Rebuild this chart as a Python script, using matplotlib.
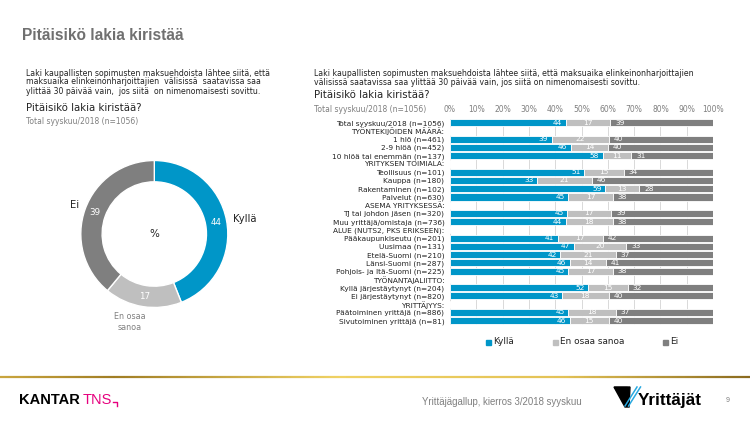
import numpy as np
import matplotlib
matplotlib.use("Agg")
import matplotlib.pyplot as plt
from matplotlib.patches import Rectangle, Polygon
from matplotlib.collections import LineCollection
from matplotlib.colors import LinearSegmentedColormap

# ---------------- data ----------------
series_names = ["Kyllä", "En osaa sanoa", "Ei"]
donut_values = [44, 17, 39]

row_labels = [
    "Total syyskuu/2018 (n=1056)",
    "TYÖNTEKIJÖIDEN MÄÄRÄ:",
    "1 hlö (n=461)",
    "2-9 hlöä (n=452)",
    "10 hlöä tai enemmän (n=137)",
    "YRITYKSEN TOIMIALA:",
    "Teollisuus (n=101)",
    "Kauppa (n=180)",
    "Rakentaminen (n=102)",
    "Palvelut (n=630)",
    "ASEMA YRITYKSESSÄ:",
    "TJ tai johdon jäsen (n=320)",
    "Muu yrittäjä/omistaja (n=736)",
    "ALUE (NUTS2, PKS ERIKSEEN):",
    "Pääkaupunkiseutu (n=201)",
    "Uusimaa (n=131)",
    "Etelä-Suomi (n=210)",
    "Länsi-Suomi (n=287)",
    "Pohjois- ja Itä-Suomi (n=225)",
    "TYÖNANTAJALIITTO:",
    "Kyllä järjestäytynyt (n=204)",
    "Ei järjestäytynyt (n=820)",
    "YRITTÄJYYS:",
    "Päätoiminen yrittäjä (n=886)",
    "Sivutoiminen yrittäjä (n=81)",
]
nan = np.nan
kylla = [44, nan, 39, 46, 58, nan, 51, 33, 59, 45, nan, 45, 44, nan, 41, 47, 42, 46, 45, nan, 52, 43, nan, 45, 46]
eos   = [17, nan, 22, 14, 11, nan, 15, 21, 13, 17, nan, 17, 18, nan, 17, 20, 21, 14, 17, nan, 15, 18, nan, 18, 15]
ei    = [39, nan, 40, 40, 31, nan, 34, 46, 28, 38, nan, 39, 38, nan, 42, 33, 37, 41, 38, nan, 32, 40, nan, 37, 40]
xticks = [0, 10, 20, 30, 40, 50, 60, 70, 80, 90, 100]

# ---------------- style ----------------
BLUE = "#0096C8"
LGRAY = "#BFBFBF"
DGRAY = "#7F7F7F"
colors = [BLUE, LGRAY, DGRAY]
W, H = 750, 422

plt.rcParams['font.family'] = ['DejaVu Sans']
fig = plt.figure(figsize=(W / 100, H / 100), dpi=100)
fig.patch.set_facecolor("white")


def fx(x):
    return x / W


def fy(y):
    return 1 - y / H


def ftext(x, y, s, **kw):
    kw.setdefault("va", "center")
    kw.setdefault("ha", "left")
    fig.text(fx(x), fy(y), s, **kw)


# ---------------- headings ----------------
ftext(22, 36, "Pitäisikö lakia kiristää", fontsize=11.2, fontweight="bold",
      color="#707070", family="Liberation Sans")

para_left = ["Laki kaupallisten sopimusten maksuehdoista lähtee siitä, että",
             "maksuaika elinkeinonharjoittajien  välisissä  saatavissa saa",
             "ylittää 30 päivää vain,  jos siitä  on nimenomaisesti sovittu."]
for i, line in enumerate(para_left):
    ftext(26, 73 + 9 * i, line, fontsize=5.6, color="#222222")
ftext(26, 108, "Pitäisikö lakia kiristää?", fontsize=7.3, color="#222222")
ftext(26, 122, "Total syyskuu/2018 (n=1056)", fontsize=5.5, color="#7f7f7f")

para_right = ["Laki kaupallisten sopimusten maksuehdoista lähtee siitä, että maksuaika elinkeinonharjoittajien",
              "välisissä saatavissa saa ylittää 30 päivää vain, jos siitä on nimenomaisesti sovittu."]
for i, line in enumerate(para_right):
    ftext(314, 73.5 + 9.2 * i, line, fontsize=5.6, color="#222222")
ftext(314, 94.5, "Pitäisikö lakia kiristää?", fontsize=7.3, color="#222222")
ftext(314, 109.5, "Total syyskuu/2018 (n=1056)", fontsize=5.5, color="#7f7f7f")

# ---------------- donut ----------------
cx, cy, R = 154.3, 234, 73.5
axd = fig.add_axes([fx(cx - R), fy(cy + R), 2 * R / W, 2 * R / H])
axd.pie(donut_values, colors=colors, startangle=90, counterclock=False,
        radius=1, wedgeprops=dict(width=0.29, edgecolor="white", linewidth=1.0),
        autopct=lambda p: f"{p:.0f}", pctdistance=0.855,
        textprops=dict(color="white", fontsize=6.3))
axd.set_xlim(-1, 1)
axd.set_ylim(-1, 1)
axd.set_aspect("auto")
axd.axis("off")
ftext(cx, cy, "%", ha="center", fontsize=7.5, color="#222222")
ftext(233, 219, series_names[0], fontsize=7.2, color="#222222")
ftext(79, 205, series_names[2], ha="right", fontsize=7.2, color="#222222")
ftext(130, 322, "En osaa\nsanoa", ha="center", fontsize=5.8, color="#808080",
      linespacing=1.25)

# ---------------- bar chart ----------------
top, bottom = 118.6, 324.8
left, right = 450, 713
axb = fig.add_axes([fx(left), fy(bottom), (right - left) / W, (bottom - top) / H])
n = len(row_labels)
ypos = np.arange(n)
data = np.array([kylla, eos, ei], dtype=float)
tot = np.nansum(data, axis=0)
tot[tot == 0] = 1
share = data / tot * 100
lefts = np.zeros(n)
bh = 0.86
for k in range(3):
    vals = np.nan_to_num(share[k])
    axb.barh(ypos, vals, left=lefts, height=bh, color=colors[k],
             edgecolor="white", linewidth=0.6, zorder=3)
    for i in range(n):
        if np.isnan(data[k, i]):
            continue
        lab = f"{data[k, i]:.0f}"
        if k == 0:
            axb.annotate(lab, (lefts[i] + vals[i], ypos[i]), xytext=(-2.5, 0),
                         textcoords="offset points", ha="right", va="center",
                         color="white", fontsize=5.4, zorder=4)
        elif k == 1:
            axb.text(lefts[i] + vals[i] / 2, ypos[i], lab, ha="center", va="center",
                     color="white", fontsize=5.4, zorder=4)
        else:
            axb.annotate(lab, (lefts[i], ypos[i]), xytext=(3.5, 0),
                         textcoords="offset points", ha="left", va="center",
                         color="white", fontsize=5.4, zorder=4)
    lefts = lefts + vals

axb.set_xlim(0, 100)
axb.set_ylim(n - 0.5, -0.5)
axb.set_xticks(xticks)
axb.set_xticklabels([f"{t}%" for t in xticks])
axb.xaxis.tick_top()
axb.tick_params(axis="x", length=0, pad=3.2, labelsize=5.5, labelcolor="#7f7f7f")
axb.set_yticks(ypos)
axb.set_yticklabels(row_labels)
axb.tick_params(axis="y", length=0, pad=4, labelsize=5.3, labelcolor="#222222")
axb.grid(axis="x", color="#d9d9d9", linewidth=0.7, zorder=0)
axb.set_axisbelow(True)
for s in axb.spines.values():
    s.set_visible(False)

# legend
leg_y = 342
for (xm, name, c) in [(488, series_names[0], BLUE), (555, series_names[1], LGRAY),
                      (665, series_names[2], DGRAY)]:
    fig.patches.append(Rectangle((fx(xm - 2.5), fy(leg_y + 2.5)), 5 / W, 5 / H,
                                 transform=fig.transFigure, color=c))
    ftext(xm + 5, leg_y, name, fontsize=6.4, color="#222222")

# ---------------- footer ----------------
cmap = LinearSegmentedColormap.from_list(
    "gold", [(0, "#c9a53e"), (0.15, "#a07d24"), (0.45, "#f0d264"),
             (0.75, "#e3c256"), (1.0, "#8a6a1e")])
xs = np.linspace(0, 1, 300)
segs = [[(xs[i], fy(376.7)), (xs[i + 1], fy(376.7))] for i in range(len(xs) - 1)]
lc = LineCollection(segs, colors=cmap(xs[:-1]), linewidths=1.6,
                    transform=fig.transFigure)
fig.add_artist(lc)

ftext(19.5, 400, "KANTAR", fontsize=10.5, color="black", family="Liberation Sans",
      fontweight="semibold")
ftext(83, 400, "TNS", fontsize=10.5, color="#e6007e", family="Liberation Sans")
fig.add_artist(plt.Line2D([fx(113.5), fx(117), fx(117)], [fy(402), fy(402), fy(405.5)],
                          transform=fig.transFigure, color="#e6007e", linewidth=1.0))

ftext(421.5, 402, "Yrittäjägallup, kierros 3/2018 syyskuu", fontsize=6.9,
      color="#7f7f7f", family="Liberation Sans")

# Yrittäjät logo
fig.patches.append(Polygon([(fx(614), fy(387)), (fx(630), fy(387)), (fx(629), fy(407)),
                            (fx(625), fy(407))], closed=True, color="black",
                           transform=fig.transFigure))
fig.patches.append(Polygon([(fx(614), fy(387)), (fx(627), fy(387)), (fx(627), fy(398))],
                           closed=True, color="black", transform=fig.transFigure))
for dx in (0, 3.5):
    fig.add_artist(plt.Line2D([fx(625 + dx), fx(637 + dx)], [fy(406), fy(387)],
                              transform=fig.transFigure, color="#29a9e0", linewidth=1.1))
ftext(638, 401, "Yrittäjät", fontsize=12.3, color="black", family="Liberation Sans",
      fontweight="bold")
ftext(726, 400, "9", fontsize=5, color="#7f7f7f", family="Liberation Sans")

fig.savefig("out.png", dpi=100, facecolor="white")
